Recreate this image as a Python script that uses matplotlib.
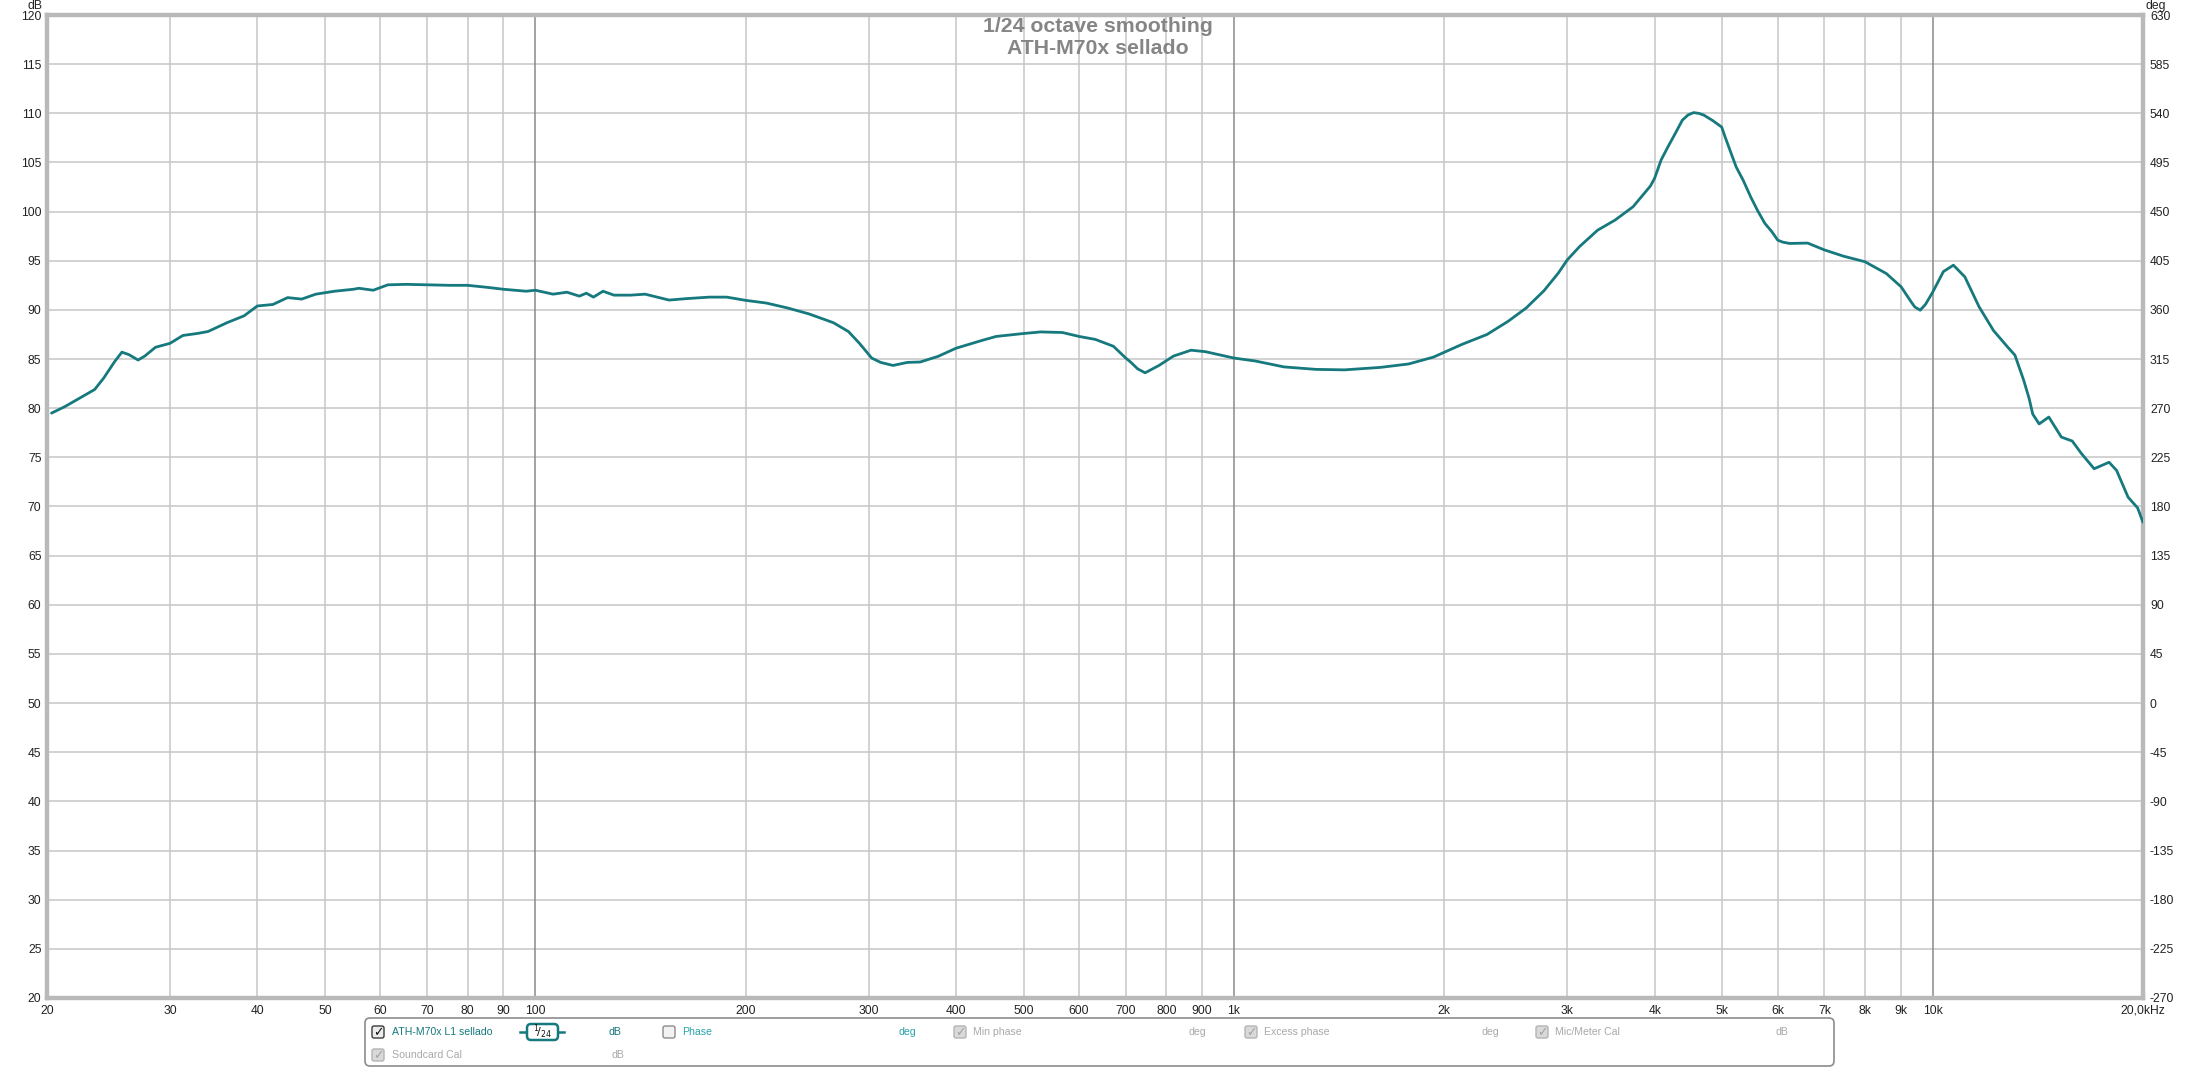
import numpy as np
import matplotlib
matplotlib.use("Agg")
import matplotlib.pyplot as plt
from matplotlib.patches import FancyBboxPatch

plt.rcParams["font.family"] = ["Liberation Sans", "DejaVu Sans"]

freq_hz = [20.3, 21.2, 22.5, 23.4, 24.1, 25.0, 25.6, 26.2, 27.0, 27.6, 28.6,
           30.0, 31.3, 32.8, 34.0, 36.2, 38.3, 40.0, 42.1, 44.2, 46.3, 48.5,
           51.6, 54.9, 55.9, 58.6, 61.5, 65.3, 70.0, 75.5, 80.0, 85.2, 90.0,
           97.0, 100, 106, 111, 115.6, 118.3, 121.1, 125, 129.6, 136.8, 143.6,
           155.4, 164.7, 177.5, 187.9, 200, 214, 229.5, 246.2, 261, 267, 280.6,
           291, 303, 312, 325, 341, 355.5, 377, 400, 436, 456.6, 500, 529, 568,
           600, 633, 672, 700, 711, 728, 746, 781, 819, 868, 910, 1000, 1073,
           1179, 1310, 1439, 1619, 1778, 1930, 2121, 2302, 2469, 2620, 2778,
           2912, 3000, 3124, 3313, 3513, 3726, 3850, 3944, 4000, 4086, 4180,
           4282, 4382, 4465, 4548, 4622, 4700, 4846, 4989, 5045, 5232, 5354,
           5489, 5616, 5752, 5887, 6000, 6097, 6240, 6622, 7000, 7450, 8000,
           8583, 9015, 9318, 9428, 9597, 9767, 10000, 10360, 10707, 11118,
           11655, 12220, 12810, 13113, 13504, 13740, 13907, 14203, 14663,
           15283, 15840, 16321, 17026, 17884, 18333, 19040, 19647, 20000]
spl_db = [79.5, 80.15, 81.2, 81.9, 83.05, 84.75, 85.7, 85.45, 84.9, 85.3, 86.2,
          86.6, 87.4, 87.6, 87.8, 88.7, 89.4, 90.4, 90.55, 91.25, 91.1, 91.6,
          91.9, 92.1, 92.2, 92.0, 92.55, 92.6, 92.55, 92.5, 92.5, 92.3, 92.1,
          91.9, 92.0, 91.6, 91.8, 91.4, 91.7, 91.3, 91.9, 91.5, 91.5, 91.6,
          91.0, 91.15, 91.3, 91.3, 90.97, 90.7, 90.2, 89.6, 88.96, 88.7, 87.8,
          86.6, 85.1, 84.66, 84.35, 84.66, 84.7, 85.27, 86.1, 86.9, 87.3, 87.6,
          87.76, 87.7, 87.3, 87.0, 86.3, 85.1, 84.7, 84.0, 83.6, 84.35, 85.3,
          85.9, 85.75, 85.1, 84.8, 84.2, 83.95, 83.9, 84.15, 84.5, 85.2, 86.5,
          87.5, 88.85, 90.2, 91.96, 93.75, 95.1, 96.45, 98.1, 99.15, 100.5,
          101.7, 102.6, 103.4, 105.25, 106.6, 107.96, 109.3, 109.83, 110.07,
          110.0, 109.83, 109.25, 108.6, 107.6, 104.55, 103.2, 101.5, 100.1,
          98.8, 97.95, 97.1, 96.9, 96.76, 96.8, 96.1, 95.47, 94.9, 93.7, 92.34,
          90.8, 90.3, 89.97, 90.57, 91.8, 93.9, 94.55, 93.36, 90.3, 87.9, 86.2,
          85.4, 82.8, 81.0, 79.4, 78.4, 79.1, 77.06, 76.66, 75.4, 73.84, 74.5,
          73.67, 70.95, 69.86, 68.4]

grid_minor = [30, 40, 50, 60, 70, 80, 90, 200, 300, 400, 500, 600, 700, 800,
              900, 2000, 3000, 4000, 5000, 6000, 7000, 8000, 9000]
grid_major = [100, 1000, 10000]
xtick_vals = [20, 30, 40, 50, 60, 70, 80, 90, 100, 200, 300, 400, 500, 600,
              700, 800, 900, 1000, 2000, 3000, 4000, 5000, 6000, 7000, 8000,
              9000, 10000, 20000]
xtick_txt = ["20", "30", "40", "50", "60", "70", "80", "90", "100", "200",
             "300", "400", "500", "600", "700", "800", "900", "1k", "2k", "3k",
             "4k", "5k", "6k", "7k", "8k", "9k", "10k", "20,0kHz"]
db_ticks = list(range(20, 121, 5))
deg_ticks = list(range(-270, 631, 45))

TEAL = "#15797d"
GRID = "#c6c6c6"
GRID_DARK = "#8a8a8a"
BORDER = "#b9b9b9"
TICK_FS = 8.7

W, H = 2200, 1069
fig = plt.figure(figsize=(W / 100, H / 100), dpi=100, facecolor="white")
ax = fig.add_axes([47 / W, 71 / H, 2096 / W, 983 / H])
ax.set_xscale("log")
ax.set_xlim(20, 20000)
ax.set_ylim(20, 120)

for y in db_ticks:
    ax.axhline(y, color=GRID, lw=1.1, zorder=1)
for f in grid_minor:
    ax.axvline(f, color=GRID, lw=1.1, zorder=1)
for f in grid_major:
    ax.axvline(f, color=GRID_DARK, lw=1.1, zorder=1)

ax.plot(freq_hz, spl_db, color=TEAL, lw=2.0, solid_joinstyle="round",
        solid_capstyle="round", zorder=3)

ax.set_xticks(xtick_vals)
ax.set_xticklabels(xtick_txt)
ax.xaxis.set_minor_locator(matplotlib.ticker.NullLocator())
ax.set_yticks(db_ticks)
ax.set_yticklabels([str(v) for v in db_ticks])
ax.tick_params(axis="both", length=0, labelsize=TICK_FS, colors="#222222")
ax.tick_params(axis="x", pad=5)
ax.tick_params(axis="y", pad=4)
for sp in ax.spines.values():
    sp.set_color(BORDER)
    sp.set_linewidth(3.2)

ax2 = ax.twinx()
ax2.set_ylim(-270, 630)
ax2.set_yticks(deg_ticks)
ax2.set_yticklabels([str(v) for v in deg_ticks])
ax2.tick_params(axis="y", length=0, labelsize=TICK_FS, colors="#222222", pad=5)
for sp in ax2.spines.values():
    sp.set_visible(False)

# ── calque en pixels pour titre, unités et barre de légende ──────────────
ov = fig.add_axes([0, 0, 1, 1], facecolor="none")
ov.set_xlim(0, W)
ov.set_ylim(H, 0)
ov.axis("off")

ov.text(1098, 17, "1/24 octave smoothing\nATH-M70x sellado", ha="center",
        va="top", fontsize=15.3, fontweight="bold", color="#858585",
        linespacing=1.22)
ov.text(35, 6, "dB", ha="center", va="center", fontsize=TICK_FS, color="#222222")
ov.text(2156, 6, "deg", ha="center", va="center", fontsize=TICK_FS, color="#222222")

ov.add_patch(FancyBboxPatch((365, 1018), 1469, 48,
                            boxstyle="round,pad=0,rounding_size=5",
                            fc="white", ec="#8c8c8c", lw=1.2))


def checkbox(x, y, checked, active):
    ec = "#3a3a3a" if active else "#b4b4b4"
    fc = "#ececec" if active else "#d9d9d9"
    if not checked and active:
        ec, fc = "#8c8c8c", "#f2f2f2"
    ov.add_patch(FancyBboxPatch((x, y - 6), 12, 12,
                                boxstyle="round,pad=0,rounding_size=2",
                                fc=fc, ec=ec, lw=1.0))
    if checked:
        ov.text(x + 6, y + 0.5, "\u2713", ha="center", va="center",
                fontsize=9, color="#111111" if active else "#a3a3a3",
                family="DejaVu Sans", fontweight="bold")


LEG_FS = 7.6
GREY_TXT = "#a9a9a9"
CYAN_TXT = "#27a3a8"
r1, r2 = 1032, 1055

checkbox(372, r1, True, True)
ov.text(392, r1, "ATH-M70x L1 sellado", va="center", fontsize=LEG_FS, color=TEAL)
ov.plot([520, 564], [r1, r1], color=TEAL, lw=1.8)
ov.add_patch(FancyBboxPatch((527, r1 - 8), 31, 16,
                            boxstyle="round,pad=0,rounding_size=4",
                            fc="white", ec=TEAL, lw=1.8, zorder=3))
ov.text(542.5, r1, "$^1\\!/_{24}$", ha="center", va="center", fontsize=8,
        color="#111111", zorder=4)
ov.text(615, r1, "dB", ha="center", va="center", fontsize=LEG_FS, color=TEAL)

checkbox(663, r1, False, True)
ov.text(682, r1, "Phase", va="center", fontsize=LEG_FS, color=CYAN_TXT)
ov.text(907, r1, "deg", ha="center", va="center", fontsize=LEG_FS, color=CYAN_TXT)

checkbox(954, r1, True, False)
ov.text(973, r1, "Min phase", va="center", fontsize=LEG_FS, color=GREY_TXT)
ov.text(1197, r1, "deg", ha="center", va="center", fontsize=LEG_FS, color=GREY_TXT)

checkbox(1245, r1, True, False)
ov.text(1264, r1, "Excess phase", va="center", fontsize=LEG_FS, color=GREY_TXT)
ov.text(1490, r1, "deg", ha="center", va="center", fontsize=LEG_FS, color=GREY_TXT)

checkbox(1536, r1, True, False)
ov.text(1555, r1, "Mic/Meter Cal", va="center", fontsize=LEG_FS, color=GREY_TXT)
ov.text(1782, r1, "dB", ha="center", va="center", fontsize=LEG_FS, color=GREY_TXT)

checkbox(372, r2, True, False)
ov.text(392, r2, "Soundcard Cal", va="center", fontsize=LEG_FS, color=GREY_TXT)
ov.text(618, r2, "dB", ha="center", va="center", fontsize=LEG_FS, color=GREY_TXT)

fig.savefig("out.png", dpi=100, facecolor="white")
